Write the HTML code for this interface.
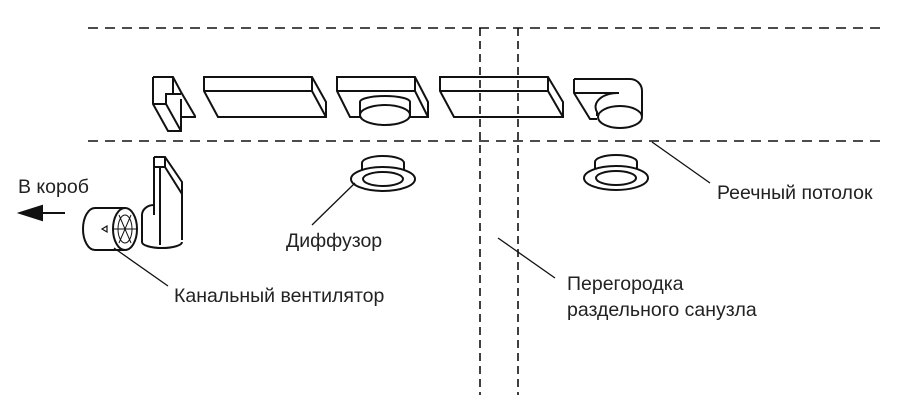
<!DOCTYPE html>
<html><head><meta charset="utf-8"><style>body{margin:0;background:#fff}svg{display:block}</style></head><body>
<svg width="898" height="412" viewBox="0 0 898 412" xmlns="http://www.w3.org/2000/svg" font-family="Liberation Sans, sans-serif" font-size="19.5" fill="none" stroke="#111" stroke-width="2">
<rect x="0" y="0" width="898" height="412" fill="#fff" stroke="none"/>
<g stroke-dasharray="10,7" stroke-width="1.6">
<line x1="88" y1="28" x2="880" y2="28"/>
<line x1="88" y1="141" x2="880" y2="141"/>
<line x1="480" y1="28" x2="480" y2="395" stroke-dasharray="8,5"/>
<line x1="518" y1="28" x2="518" y2="395" stroke-dasharray="8,5"/>
</g>
<!-- left elbow -->
<path d="M153,77 L173,77 L181,92 L195,116 L195,117 L181,117 L181,99 M153,77 L153,104 L168,131 L181,131 L181,117 M153,104 L166,104 L166,94 L181,94 M166,104 L181,131 M173,77 L173,94"/>
<!-- long box 1 -->
<path d="M204,77 L312,77 L326,102 L326,117 L218,117 L204,91 Z M204,91 L312,91 L326,117 M312,77 L312,91"/>
<!-- box 2 with cylinder -->
<path d="M337,77 L415,77 L428,102 L428,117 L350,117 L337,91 Z M337,91 L415,91 L428,117 M415,77 L415,91"/>
<path d="M360,102 L360,115 M410,102 L410,115" />
<ellipse cx="385" cy="115" rx="25" ry="10" fill="#fff"/>
<path d="M360,102 A25,6 0 0 1 410,102"/>
<!-- box 3 -->
<path d="M440,77 L548,77 L563,102 L563,117 L454,117 L440,91 Z M440,91 L548,91 L563,117 M548,77 L548,91"/>
<!-- right elbow -->
<path d="M574,79 L630,79 A12,12 0 0 1 642,91 L642,116 M574,79 L574,93 L590,119 L597,119 M574,93 L619,93 M619,93 A22,14 0 0 0 597,112 L597,116"/>
<ellipse cx="620" cy="117" rx="22" ry="11"/>
<!-- diffusers -->
<g>
<path d="M362,174 L362,163 A21,7 0 0 1 404,163 L404,174"/>
<ellipse cx="383" cy="179" rx="32" ry="12" fill="#fff"/>
<ellipse cx="383" cy="179" rx="20" ry="7"/>
<path d="M595,173 L595,162 A21,7 0 0 1 637,162 L637,173"/>
<ellipse cx="616" cy="178" rx="32" ry="12" fill="#fff"/>
<ellipse cx="616" cy="178" rx="20" ry="7"/>
</g>
<!-- blower -->
<path d="M154,157 L165,157 L182,182 L182,240 M154,157 L154,215 M154,167 L165,167 L165,157 M165,167 L182,194 M160,167 L160,245"/>
<path d="M154,205 A12,10 0 0 0 142,215 L142,242 A20,6 0 0 0 182,242"/>
<!-- duct fan -->
<path d="M95,208 L125,208 M95,250 L125,250"/>
<path d="M95,208 A12,21 0 0 0 95,250"/>
<ellipse cx="125" cy="229" rx="12" ry="21" fill="#fff"/>
<ellipse cx="125" cy="229" rx="7" ry="14" stroke-width="1"/>
<path d="M119,215 L131,243 M131,215 L119,243 M114,229 L136,229" stroke-width="1"/>
<path d="M107,226 L102,229 L107,232 Z" stroke-width="1.2"/>
<!-- arrow -->
<line x1="40" y1="213" x2="65" y2="213"/>
<path d="M20,213 L42,206 L42,220 Z" fill="#111"/>
<!-- leaders -->
<g stroke-width="1.3">
<line x1="355" y1="183" x2="312" y2="225"/>
<line x1="114" y1="248" x2="168" y2="286"/>
<line x1="498" y1="238" x2="555" y2="278"/>
<line x1="652" y1="142" x2="710" y2="183"/>
</g>
<g fill="#222" stroke="none">
<text x="18" y="193">В короб</text>
<text x="286" y="247">Диффузор</text>
<text x="174" y="302">Канальный вентилятор</text>
<text x="567" y="290">Перегородка</text>
<text x="567" y="316">раздельного санузла</text>
<text x="717" y="199">Реечный потолок</text>
</g>
</svg>
</body></html>
